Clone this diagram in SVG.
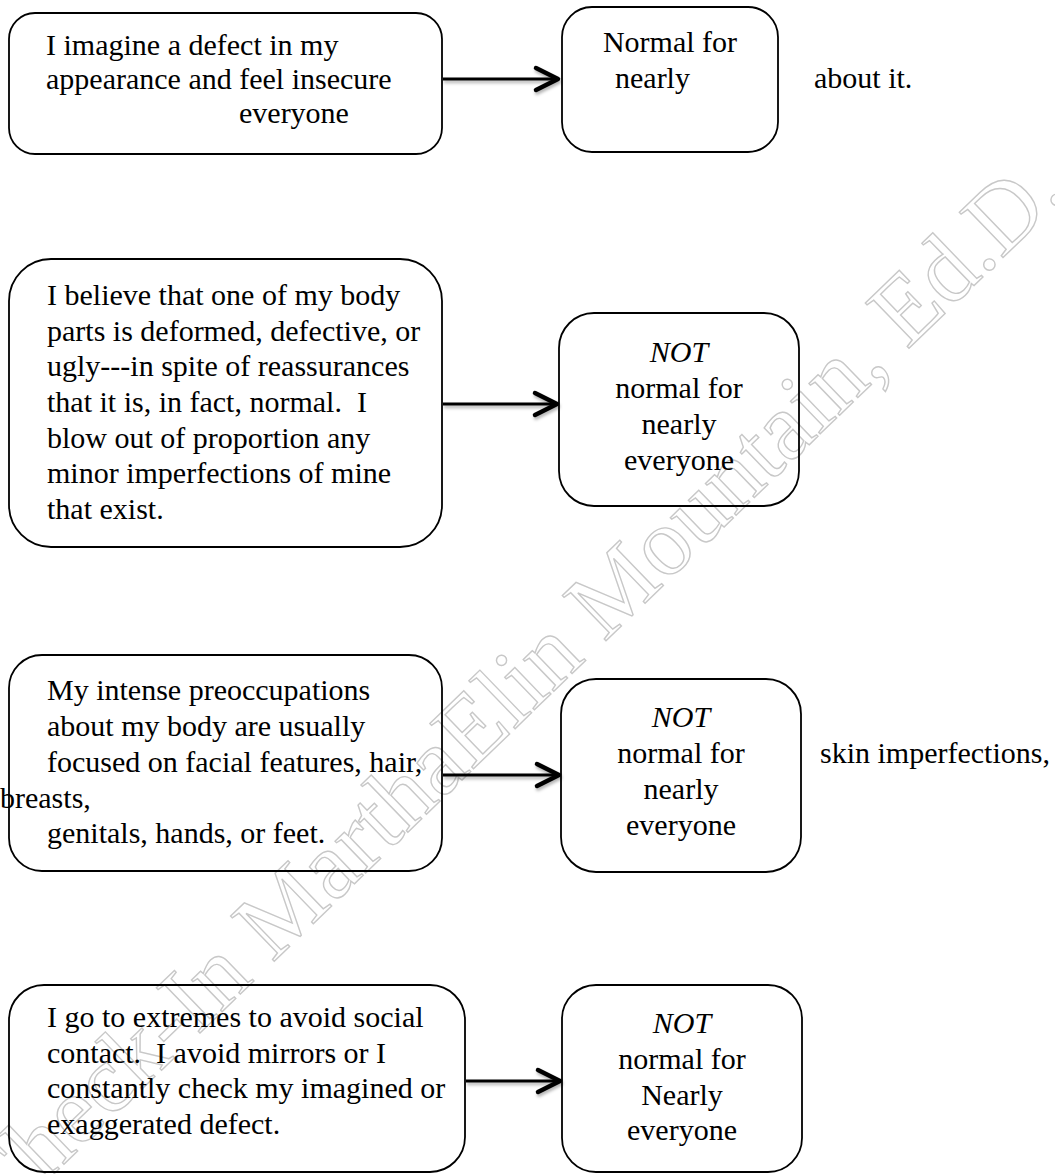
<svg xmlns="http://www.w3.org/2000/svg" width="1055" height="1174" viewBox="0 0 1055 1174">
  <style>
    .box { fill: none; stroke: #000; stroke-width: 1.8; }
    .txt { font-family: "Liberation Serif", "Times New Roman", serif; font-size: 30px; fill: #000; white-space: pre; }
    .mid { text-anchor: middle; }
    .em { font-style: italic; }
    .edge { fill: none; stroke: #000; stroke-width: 3; }
    .mark { font-family: "Liberation Serif", "Times New Roman", serif; font-size: 96px; fill: none; stroke: #c8c8c8; stroke-width: 1.4; }
  </style>
  <defs>
    <marker id="chevron" markerUnits="userSpaceOnUse" markerWidth="32" markerHeight="32" viewBox="0 0 32 32" refX="26" refY="16" orient="auto">
      <path d="M4,5 L26,16 L4,27" fill="none" stroke="#000" stroke-width="4.5" stroke-linecap="round" stroke-linejoin="round"/>
    </marker>
    <filter id="soft" x="-10%" y="-50%" width="130%" height="250%">
      <feDropShadow dx="1" dy="2.5" stdDeviation="1.6" flood-color="#000" flood-opacity="0.3"/>
    </filter>
  </defs>

  <rect width="1055" height="1174" fill="#fff"/>

  <!-- diagonal watermark -->
  <text class="mark" x="-2" y="1228" transform="rotate(-44 -2 1228)">Check-In MarthaElin Mountain, Ed.D.</text>

  <!-- row 1 -->
  <g id="imagine">
    <rect class="box" x="9" y="13" width="433" height="141" rx="26"/>
    <text class="txt" x="46" y="55">I imagine a defect in my</text>
    <text class="txt" x="46" y="89">appearance and feel insecure</text>
    <text class="txt" x="239" y="123">everyone</text>
  </g>
  <g id="normal">
    <rect class="box" x="562" y="7" width="216" height="145" rx="30"/>
    <text class="txt mid" x="670" y="52">Normal for</text>
    <text class="txt" x="615" y="88">nearly</text>
  </g>
  <text class="txt" x="814" y="88">about it.</text>

  <!-- row 2 -->
  <g id="believe">
    <rect class="box" x="9" y="259" width="433" height="288" rx="42"/>
    <text class="txt" x="47" y="305">I believe that one of my body</text>
    <text class="txt" x="47" y="341">parts is deformed, defective, or</text>
    <text class="txt" x="47" y="376">ugly---in spite of reassurances</text>
    <text class="txt" x="47" y="412">that it is, in fact, normal.  I</text>
    <text class="txt" x="47" y="448">blow out of proportion any</text>
    <text class="txt" x="47" y="483">minor imperfections of mine</text>
    <text class="txt" x="47" y="519">that exist.</text>
  </g>
  <g id="not-normal-1">
    <rect class="box" x="559" y="313" width="240" height="193" rx="35"/>
    <text class="txt mid em" x="679" y="362">NOT</text>
    <text class="txt mid" x="679" y="398">normal for</text>
    <text class="txt mid" x="679" y="434">nearly</text>
    <text class="txt mid" x="679" y="470">everyone</text>
  </g>

  <!-- row 3 -->
  <g id="preoccupations">
    <rect class="box" x="9" y="655" width="433" height="216" rx="33"/>
    <text class="txt" x="47" y="700">My intense preoccupations</text>
    <text class="txt" x="47" y="736">about my body are usually</text>
    <text class="txt" x="47" y="772">focused on facial features, hair,</text>
    <text class="txt" x="0" y="808">breasts,</text>
    <text class="txt" x="47" y="843">genitals, hands, or feet.</text>
  </g>
  <g id="not-normal-2">
    <rect class="box" x="561" y="679" width="240" height="193" rx="35"/>
    <text class="txt mid em" x="681" y="727">NOT</text>
    <text class="txt mid" x="681" y="763">normal for</text>
    <text class="txt mid" x="681" y="799">nearly</text>
    <text class="txt mid" x="681" y="835">everyone</text>
  </g>
  <text class="txt" x="820" y="763">skin imperfections,</text>

  <!-- row 4 -->
  <g id="extremes">
    <rect class="box" x="9" y="985" width="456" height="187" rx="35"/>
    <text class="txt" x="47" y="1027">I go to extremes to avoid social</text>
    <text class="txt" x="47" y="1063">contact.  I avoid mirrors or I</text>
    <text class="txt" x="47" y="1098">constantly check my imagined or</text>
    <text class="txt" x="47" y="1134">exaggerated defect.</text>
  </g>
  <g id="not-normal-3">
    <rect class="box" x="562" y="985" width="240" height="187" rx="34"/>
    <text class="txt mid em" x="682" y="1033">NOT</text>
    <text class="txt mid" x="682" y="1069">normal for</text>
    <text class="txt mid" x="682" y="1105">Nearly</text>
    <text class="txt mid" x="682" y="1140">everyone</text>
  </g>

  <!-- connectors -->
  <g id="connectors" filter="url(#soft)">
    <path class="edge" d="M443,79 H558" marker-end="url(#chevron)"/>
    <path class="edge" d="M443,404 H557" marker-end="url(#chevron)"/>
    <path class="edge" d="M443,775 H559" marker-end="url(#chevron)"/>
    <path class="edge" d="M466,1081 H560" marker-end="url(#chevron)"/>
  </g>
</svg>
